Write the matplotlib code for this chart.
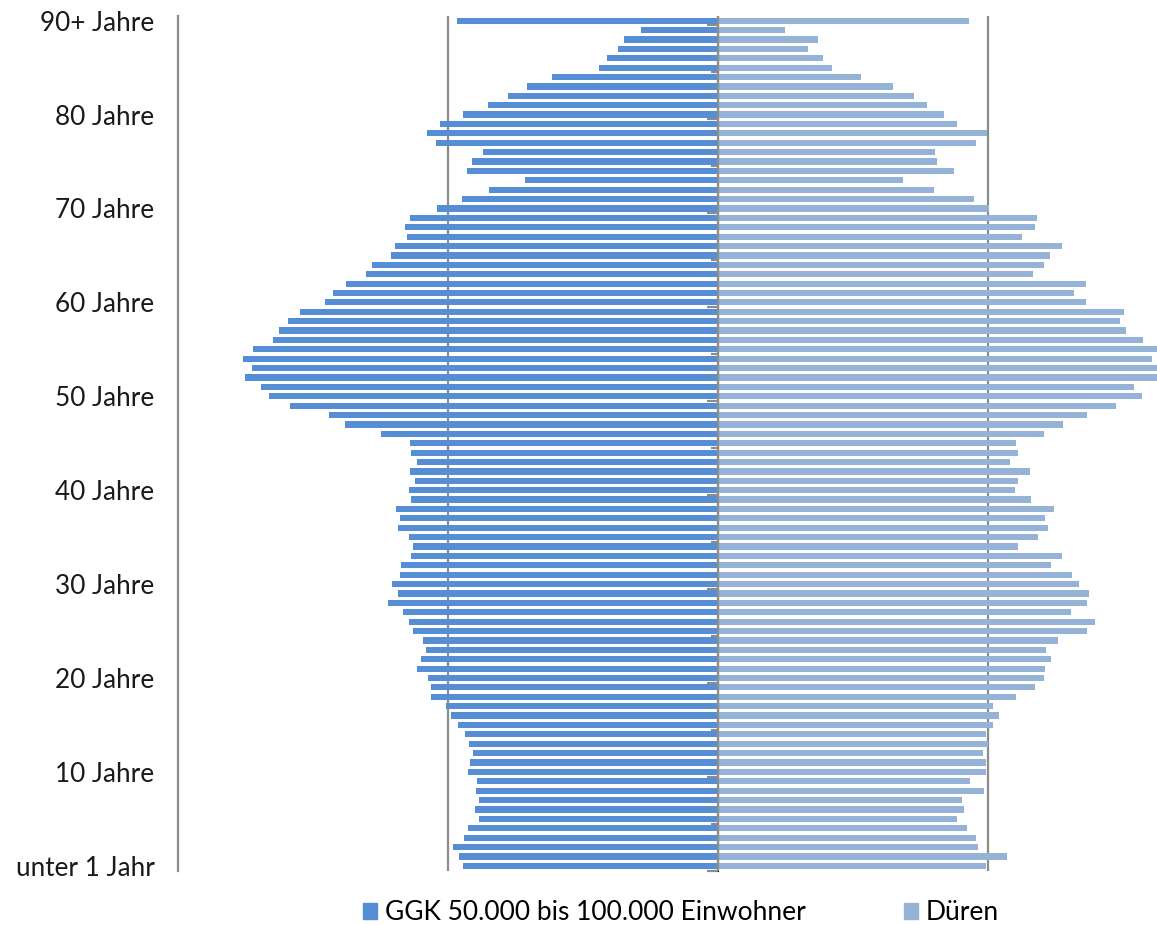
import numpy as np
import matplotlib
matplotlib.use('Agg')
import matplotlib.pyplot as plt
from matplotlib.patches import Patch

plt.rcParams['font.family'] = ['Lato', 'DejaVu Sans']

# Anteil an der Bevoelkerung je Altersjahr (0 = unter 1 Jahr, 90 = 90+)
ages = np.arange(0, 91)

ggk = [0.944, 0.960, 0.980, 0.942, 0.925, 0.885, 0.902, 0.884, 0.896, 0.893,
       0.926, 0.919, 0.909, 0.921, 0.937, 0.965, 0.989, 1.006, 1.062, 1.064,
       1.074, 1.114, 1.101, 1.081, 1.093, 1.131, 1.144, 1.168, 1.222, 1.184,
       1.207, 1.178, 1.174, 1.138, 1.130, 1.143, 1.185, 1.177, 1.191, 1.136,
       1.143, 1.121, 1.140, 1.116, 1.138, 1.141, 1.248, 1.381, 1.440, 1.584,
       1.664, 1.694, 1.752, 1.726, 1.758, 1.721, 1.649, 1.626, 1.593, 1.549,
       1.457, 1.426, 1.378, 1.305, 1.281, 1.212, 1.196, 1.153, 1.160, 1.142,
       1.041, 0.948, 0.849, 0.716, 0.931, 0.912, 0.872, 1.044, 1.078, 1.031,
       0.943, 0.852, 0.778, 0.709, 0.617, 0.442, 0.410, 0.370, 0.348, 0.286,
       0.968]

dueren = [0.991, 1.068, 0.964, 0.953, 0.922, 0.883, 0.909, 0.904, 0.984, 0.933,
          0.991, 0.991, 0.979, 1.000, 0.991, 1.016, 1.040, 1.016, 1.102, 1.175,
          1.207, 1.210, 1.231, 1.214, 1.258, 1.364, 1.394, 1.307, 1.365, 1.374,
          1.336, 1.309, 1.231, 1.274, 1.111, 1.184, 1.221, 1.210, 1.242, 1.159,
          1.099, 1.111, 1.154, 1.080, 1.109, 1.102, 1.205, 1.277, 1.365, 1.473,
          1.569, 1.541, 1.650, 1.640, 1.605, 1.660, 1.572, 1.512, 1.488, 1.501,
          1.362, 1.316, 1.363, 1.167, 1.206, 1.228, 1.273, 1.125, 1.174, 1.179,
          1.002, 0.949, 0.801, 0.686, 0.875, 0.812, 0.804, 0.954, 0.996, 0.885,
          0.837, 0.774, 0.726, 0.649, 0.528, 0.423, 0.388, 0.332, 0.369, 0.247,
          0.930]

label_pos = [0, 10, 20, 30, 40, 50, 60, 70, 80, 90]
label_txt = ['unter 1 Jahr', '10 Jahre', '20 Jahre', '30 Jahre', '40 Jahre',
             '50 Jahre', '60 Jahre', '70 Jahre', '80 Jahre', '90+ Jahre']

c_ggk = '#558ED5'
c_dn = '#95B3D7'
grey = '#8C8C8C'

fig = plt.figure(figsize=(11.57, 9.25), dpi=100)
ax = fig.add_axes([178 / 1157, 1 - 870.5 / 925, 1 - 178 / 1157, (870.5 - 16) / 925])

ax.barh(ages, -np.array(ggk), height=0.66, color=c_ggk, zorder=2)
ax.barh(ages, dueren, height=0.66, color=c_dn, zorder=2)

xmin, xmax = -2.0, 1.625
ax.set_xlim(xmin, xmax)
ax.set_ylim(-0.5, 90.5)

# gridlines behind bars, category axis at 0 on top
for gx in [-1, 1]:
    ax.axvline(gx, color=grey, lw=1.6, zorder=1)
ax.axvline(0, color=grey, lw=1.6, zorder=3)

for s in ['top', 'right', 'bottom']:
    ax.spines[s].set_visible(False)
ax.spines['left'].set_color(grey)
ax.spines['left'].set_linewidth(1.6)
ax.set_xticks([])

ax.set_yticks(label_pos)
ax.set_yticklabels(label_txt, fontsize=18.8, color='#1a1a1a')
ax.tick_params(axis='y', length=0, pad=17)

# tick marks on the centre axis (pointing left)
sec = ax.secondary_yaxis((0 - xmin) / (xmax - xmin))
sec.spines['left'].set_visible(False)
sec.set_yticks(np.arange(89.5, -1, -10))
sec.set_yticks(np.arange(84.5, 0, -10), minor=True)
sec.set_yticklabels([])
sec.tick_params(axis='y', which='major', length=8, width=1.6, color=grey, direction='in')
sec.tick_params(axis='y', which='minor', length=5, width=1.6, color=grey, direction='in')

handles = [Patch(color=c_ggk), Patch(color=c_dn)]
fig.legend(handles, ['GGK 50.000 bis 100.000 Einwohner', 'Düren'],
           loc='center', bbox_to_anchor=(681 / 1157, 1 - 913 / 925), ncol=2,
           frameon=False, fontsize=19, handlelength=0.55, handleheight=0.55,
           handletextpad=0.3, columnspacing=3.7)

fig.savefig('out.png', dpi=100)
